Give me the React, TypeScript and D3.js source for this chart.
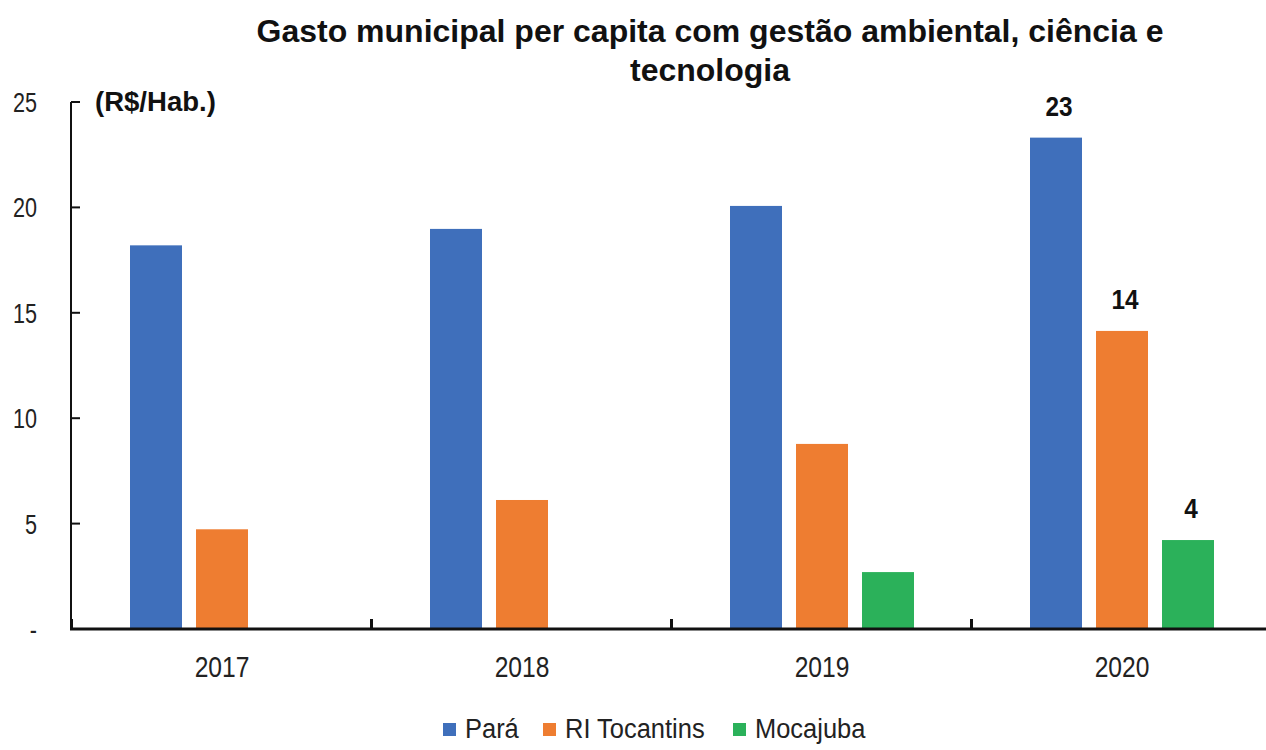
import { useRef, useEffect } from "react";
import * as d3 from "d3";

const years = ["2017", "2018", "2019", "2020"];
const seriesNames = ["Pará", "RI Tocantins", "Mocajuba"];
const paraValues = [18.2, 18.98, 20.07, 23.31];
const tocantinsValues = [4.73, 6.12, 8.78, 14.14];
const mocajubaValues: (number | null)[] = [null, null, 2.7, 4.22];
const yTicks = [0, 5, 10, 15, 20, 25];
const labelledYear = "2020";

const colors = ["#3F6FBB", "#EE7D31", "#2BB15A"];
const FONT = "'Liberation Sans Narrow', 'Arial Narrow', 'Liberation Sans', Arial, sans-serif";

// narrow font is not available, so squeeze regular text horizontally
const squeeze = (x: number, y: number, sx: number) => `translate(${x},${y}) scale(${sx},1)`;

const App = () => {
  const svgRef = useRef(null);

  useEffect(() => {
    if (!svgRef.current) return;
    const width = 1266;
    const svg = d3.select(svgRef.current);
    svg.selectAll("*").remove();

    const allSeries = [paraValues, tocantinsValues, mocajubaValues];
    const x = d3.scaleBand().domain(years).range([72, 1272]).paddingInner(0);
    const xSub = d3.scaleBand().domain(seriesNames).range([58, 242]).paddingInner(14 / 66);
    const y = d3.scaleLinear().domain([0, 25]).range([629, 102]);

    //  Title
    const title = svg
      .append("text")
      .attr("font-family", FONT)
      .attr("font-weight", "bold")
      .attr("font-size", 32)
      .attr("text-anchor", "middle")
      .attr("fill", "#111");
    title.append("tspan").attr("x", 710).attr("y", 42).text("Gasto municipal per capita com gestão ambiental, ciência e");
    title.append("tspan").attr("x", 710).attr("y", 81).text("tecnologia");

    svg
      .append("text")
      .attr("transform", squeeze(95, 111, 1.02))
      .attr("font-family", FONT)
      .attr("font-weight", "bold")
      .attr("font-size", 27)
      .attr("fill", "#111")
      .text("(R$/Hab.)");

    //  Bars
    const rows = years.flatMap((yr, i) =>
      seriesNames.map((s, j) => ({ yr, s, j, v: allSeries[j][i] }))
    );
    svg
      .append("g")
      .selectAll("rect")
      .data(rows.filter((d) => d.v != null))
      .join("rect")
      .attr("x", (d) => (x(d.yr) as number) + (xSub(d.s) as number))
      .attr("width", xSub.bandwidth())
      .attr("y", (d) => y(d.v as number))
      .attr("height", (d) => y(0) - y(d.v as number))
      .attr("fill", (d) => colors[d.j]);

    //  Value labels
    svg
      .append("g")
      .attr("font-family", FONT)
      .attr("font-weight", "bold")
      .attr("font-size", 28)
      .attr("text-anchor", "middle")
      .attr("fill", "#111")
      .selectAll("text")
      .data(rows.filter((d) => d.yr === labelledYear && d.v != null))
      .join("text")
      .attr("transform", (d) =>
        squeeze(
          (x(d.yr) as number) + (xSub(d.s) as number) + xSub.bandwidth() / 2 + 3,
          y(d.v as number) - 22,
          0.87
        )
      )
      .text((d) => Math.round(d.v as number));

    //  Y axis
    const yAxis = svg.append("g");
    yAxis
      .append("line")
      .attr("x1", 71)
      .attr("x2", 71)
      .attr("y1", y(25))
      .attr("y2", y(0))
      .attr("stroke", "#111")
      .attr("stroke-width", 2);
    yAxis
      .selectAll("line.tick")
      .data(yTicks.filter((t) => t > 0))
      .join("line")
      .attr("class", "tick")
      .attr("x1", 71)
      .attr("x2", 80)
      .attr("y1", (d) => y(d))
      .attr("y2", (d) => y(d))
      .attr("stroke", "#111")
      .attr("stroke-width", 2);
    yAxis
      .selectAll("text")
      .data(yTicks)
      .join("text")
      .attr("transform", (d) => squeeze(37, y(d) + 10, 0.8))
      .attr("text-anchor", "end")
      .attr("font-family", FONT)
      .attr("font-size", 27)
      .attr("fill", "#222")
      .text((d) => (d === 0 ? "-" : d));

    //  X axis
    const xAxis = svg.append("g");
    xAxis
      .append("line")
      .attr("x1", 70)
      .attr("x2", width)
      .attr("y1", y(0))
      .attr("y2", y(0))
      .attr("stroke", "#111")
      .attr("stroke-width", 3);
    xAxis
      .selectAll("line.tick")
      .data(years)
      .join("line")
      .attr("class", "tick")
      .attr("x1", (d) => (x(d) as number) - 0.5)
      .attr("x2", (d) => (x(d) as number) - 0.5)
      .attr("y1", y(0))
      .attr("y2", y(0) - 10)
      .attr("stroke", "#111")
      .attr("stroke-width", 3);
    xAxis
      .selectAll("text")
      .data(years)
      .join("text")
      .attr("transform", (d) => squeeze((x(d) as number) + x.bandwidth() / 2, 677, 0.82))
      .attr("text-anchor", "middle")
      .attr("font-family", FONT)
      .attr("font-size", 30)
      .attr("fill", "#222")
      .text((d) => d);

    //  Legend
    const legendX = [443, 543, 733];
    const legend = svg
      .append("g")
      .selectAll("g")
      .data(seriesNames)
      .join("g")
      .attr("transform", (_, i) => `translate(${legendX[i]},738)`);
    legend
      .append("rect")
      .attr("x", 0)
      .attr("y", -15)
      .attr("width", 13)
      .attr("height", 13)
      .attr("fill", (_, i) => colors[i]);
    legend
      .append("text")
      .attr("transform", squeeze(22, 0, 0.91))
      .attr("font-family", FONT)
      .attr("font-size", 28)
      .attr("fill", "#222")
      .text((d) => d);
  }, [svgRef]);

  return (
    <svg
      ref={svgRef}
      width={1266}
      height={750}
      style={{ position: "absolute", left: 0, top: 0, background: "#fff" }}
    />
  );
};

export default App;
